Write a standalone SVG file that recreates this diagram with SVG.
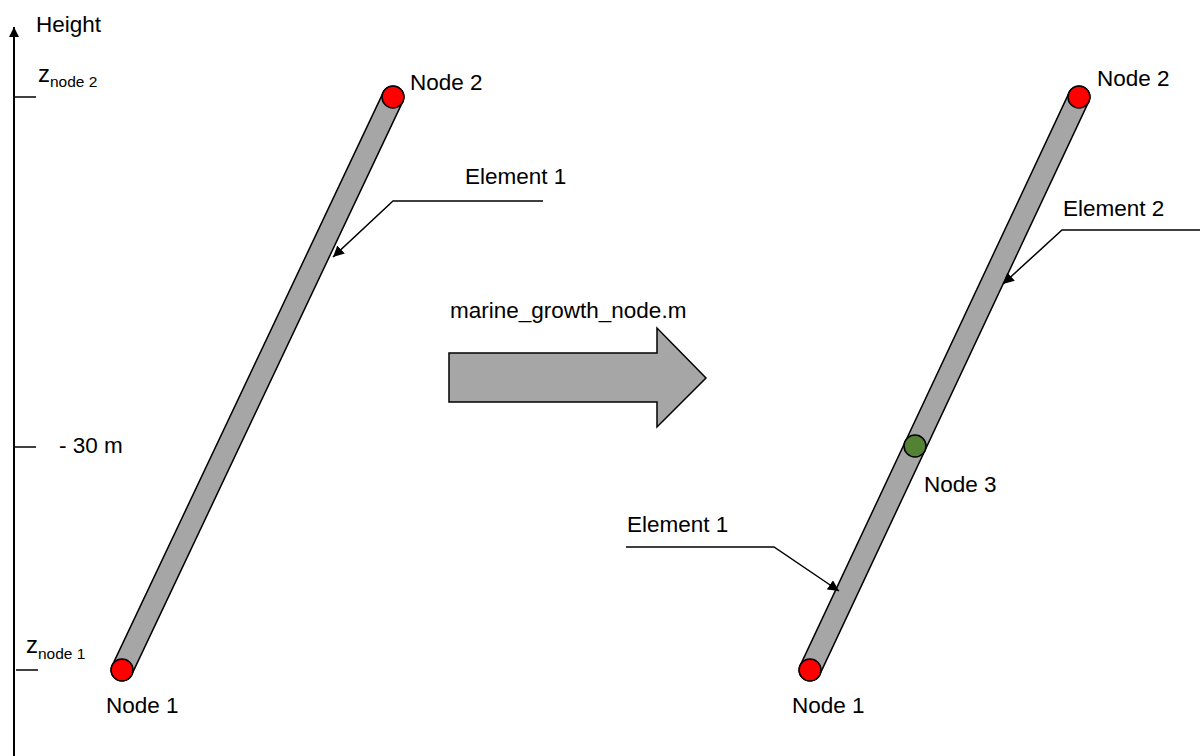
<svg xmlns="http://www.w3.org/2000/svg" width="1200" height="756" viewBox="0 0 1200 756">
  <style>
    text { font-family: "Liberation Sans", Arial, sans-serif; font-size: 22.5px; fill: #000; }
    .zsym { font-size: 24px; }
    .sub { font-size: 15.5px; }
    .axis { stroke: #000; stroke-width: 2; fill: none; }
    .tick { stroke: #000; stroke-width: 1.5; fill: none; }
    .leader { stroke: #000; stroke-width: 1.5; fill: none; }
    .rod-edge { stroke: #000; stroke-width: 23; stroke-linecap: round; }
    .rod-body { stroke: #a6a6a6; stroke-width: 20; stroke-linecap: round; }
    .node-red { fill: #ff0000; stroke: #000; stroke-width: 1.5; }
    .node-green { fill: #548235; stroke: #000; stroke-width: 1.5; }
  </style>
  <defs>
    <marker id="arrow" viewBox="0 0 10 10" refX="10" refY="5" markerWidth="11" markerHeight="11" markerUnits="userSpaceOnUse" orient="auto">
      <path d="M0,0 L10,5 L0,10 Z" fill="#000"/>
    </marker>
    <marker id="axisHead" viewBox="0 0 10 10" refX="10" refY="5" markerWidth="10" markerHeight="10" markerUnits="userSpaceOnUse" orient="auto">
      <path d="M0,0 L10,5 L0,10 Z" fill="#000"/>
    </marker>
  </defs>

  <!-- height axis with level ticks -->
  <g id="axis">
    <line class="axis" x1="14" y1="756" x2="14" y2="27" marker-end="url(#axisHead)"/>
    <line class="tick" x1="14" y1="97" x2="36" y2="97"/>
    <line class="tick" x1="14" y1="447" x2="36" y2="447"/>
    <line class="tick" x1="16" y1="670" x2="38" y2="670"/>
    <text x="36" y="32">Height</text>
    <text class="zsym" x="38" y="82">z<tspan class="sub" dy="5">node  2</tspan></text>
    <text x="59" y="453">- 30 m</text>
    <text class="zsym" x="26" y="653">z<tspan class="sub" dy="6">node  1</tspan></text>
  </g>

  <!-- original member: one element -->
  <g id="rod-left">
    <line class="rod-edge" x1="122" y1="670" x2="393" y2="97"/>
    <line class="rod-body" x1="122" y1="670" x2="393" y2="97"/>
  </g>
  <g id="left-node1">
    <circle class="node-red" cx="122" cy="670" r="11"/>
    <text x="106" y="713">Node 1</text>
  </g>
  <g id="left-node2">
    <circle class="node-red" cx="393" cy="97" r="11"/>
    <text x="410" y="90">Node 2</text>
  </g>
  <g id="left-element1">
    <text x="465" y="184">Element 1</text>
  </g>

  <!-- transformation arrow -->
  <g id="process">
    <polygon points="449,353 657,353 657,328 706,378 657,427 657,402 449,402" fill="#a6a6a6" stroke="#000" stroke-width="1.5"/>
    <text x="450" y="318">marine_growth_node.m</text>
  </g>

  <!-- refined member: two elements -->
  <g id="rod-right">
    <line class="rod-edge" x1="810" y1="670" x2="1079" y2="97"/>
    <line class="rod-body" x1="810" y1="670" x2="1079" y2="97"/>
  </g>
  <g id="right-node1">
    <circle class="node-red" cx="810" cy="670" r="11"/>
    <text x="792" y="713">Node 1</text>
  </g>
  <g id="right-node2">
    <circle class="node-red" cx="1079" cy="97" r="11"/>
    <text x="1097" y="86">Node 2</text>
  </g>
  <g id="right-node3">
    <circle class="node-green" cx="915" cy="446" r="11"/>
    <text x="924" y="492">Node 3</text>
  </g>
  <g id="right-element2">
    <text x="1063" y="216">Element 2</text>
  </g>
  <g id="right-element1">
    <text x="627" y="532">Element 1</text>
  </g>

  <!-- leader lines -->
  <g id="connectors">
    <polyline class="leader" points="543,201 393,201 333,257" marker-end="url(#arrow)"/>
    <polyline class="leader" points="1200,230 1062,230 1003,284" marker-end="url(#arrow)"/>
    <polyline class="leader" points="626,547 774,547 839,591" marker-end="url(#arrow)"/>
  </g>
</svg>
